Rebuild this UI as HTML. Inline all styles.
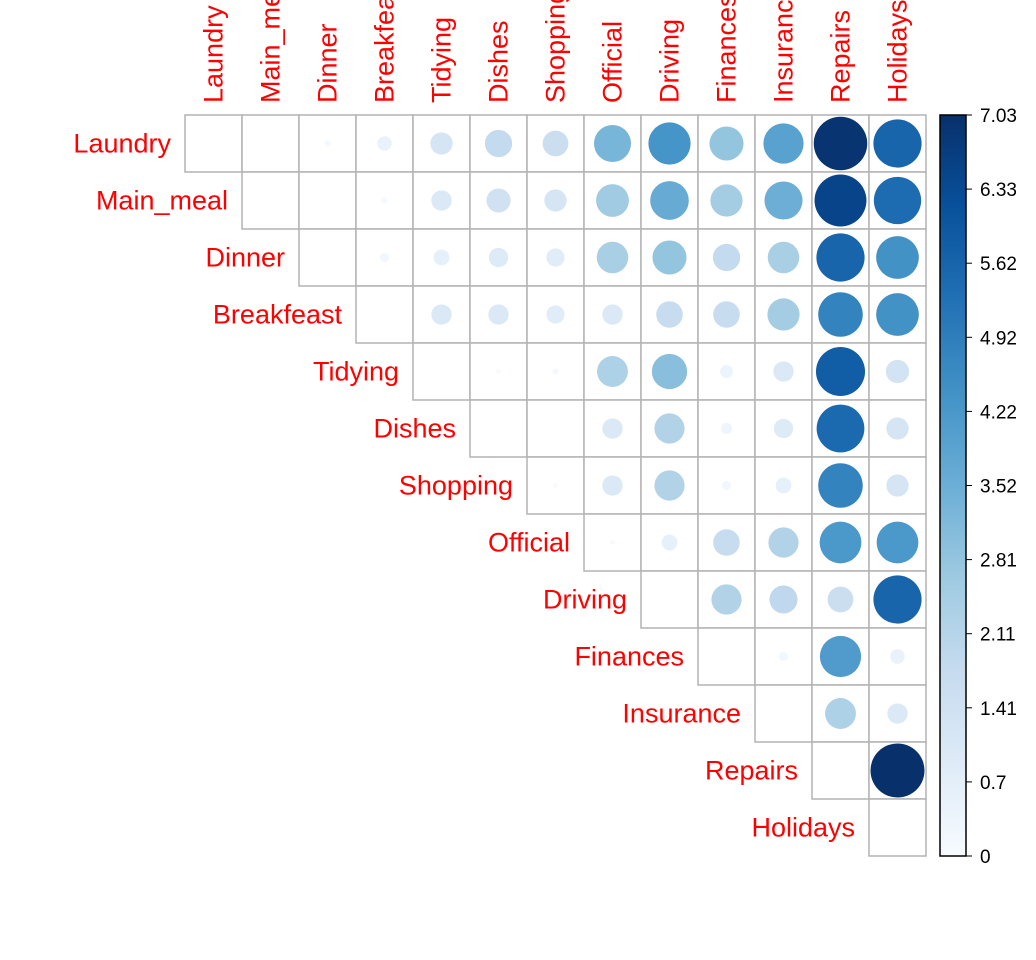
<!DOCTYPE html>
<html><head><meta charset="utf-8"><style>
body{margin:0;background:#fff;width:1036px;height:960px;overflow:hidden}
svg{display:block;font-family:"Liberation Sans",Arial,sans-serif}
</style></head><body>
<svg id="chart" width="1036" height="960" viewBox="0 0 1036 960"></svg>
<script>
const categories=["Laundry","Main_meal","Dinner","Breakfeast","Tidying","Dishes","Shopping","Official","Driving","Finances","Insurance","Repairs","Holidays"];
const rowLaundry=[0,0,0.1,0.5,1.2,1.8,1.6,3.3,4.3,2.8,3.9,6.9,5.6];
const rowMainMeal=[0,0,0.1,1.0,1.4,1.2,2.6,3.6,2.5,3.5,6.5,5.4];
const rowDinner=[0,0.2,0.6,0.9,0.8,2.4,2.8,1.8,2.4,5.6,4.4];
const rowBreakfeast=[0,1.0,1.0,0.8,1.0,1.7,1.7,2.5,4.8,4.4];
const rowTidying=[0,0.05,0.1,2.3,3.0,0.4,1.0,5.8,1.3];
const rowDishes=[0,0,1.0,2.2,0.3,0.9,5.5,1.2];
const rowShopping=[0.05,1.0,2.2,0.2,0.6,4.8,1.2];
const rowOfficial=[0.05,0.6,1.7,2.2,4.2,4.2];
const rowDriving=[0,2.2,1.9,1.6,5.6];
const rowFinances=[0,0.2,4.1,0.5];
const rowInsurance=[0,2.3,1.0];
const rowRepairs=[0,7.03];
const rowHolidays=[0];
const rows=[rowLaundry,rowMainMeal,rowDinner,rowBreakfeast,rowTidying,rowDishes,rowShopping,rowOfficial,rowDriving,rowFinances,rowInsurance,rowRepairs,rowHolidays];
const legendTicks=["0","0.7","1.41","2.11","2.81","3.52","4.22","4.92","5.62","6.33","7.03"];
const vmax=7.03;
const NS="http://www.w3.org/2000/svg";
const svg=document.getElementById('chart');
const x0=185,y0=115,cs=57;
const xPos=j=>x0+j*cs, yPos=i=>y0+i*cs;
const blues=["#F7FBFF","#DEEBF7","#C6DBEF","#9ECAE1","#6BAED6","#4292C6","#2171B5","#08519C","#08306B"];
function hex(h){return [1,3,5].map(k=>parseInt(h.substr(k,2),16));}
function color(v){let t=Math.max(0,Math.min(1,v/vmax))*(blues.length-1);let k=Math.min(Math.floor(t),blues.length-2);let f=t-k;let a=hex(blues[k]),b=hex(blues[k+1]);return "rgb("+a.map((c,i)=>Math.round(c+(b[i]-c)*f)).join(",")+")";}
function mk(tag,attrs){const e=document.createElementNS(NS,tag);for(const k in attrs)e.setAttribute(k,attrs[k]);svg.appendChild(e);return e;}
rows.forEach((vals,i)=>{
  vals.forEach((v,k)=>{
    const j=i+k;
    const r=mk('rect',{x:xPos(j),y:yPos(i),width:cs,height:cs,fill:'#fff',stroke:'#b3b3b3','stroke-width':1.5});
    
    
    const rad=27*Math.sqrt(v/vmax);
    if(rad>0.3){
      const c=mk('circle',{cx:xPos(j)+cs/2,cy:yPos(i)+cs/2,r:rad,fill:color(v)});
      
      
    }
  });
});
categories.forEach((c,i)=>{
  const t=mk('text',{x:xPos(i)-14,y:yPos(i)+cs/2+9,'text-anchor':'end','font-size':27,fill:'#ff0000'});
  t.textContent=c;
  
  
  const cx=xPos(i)+cs/2+9, cy=103;
  const u=mk('text',{x:cx,y:cy,transform:'rotate(-90 '+cx+' '+cy+')','font-size':27,fill:'#ff0000'});
  u.textContent=c;
  
  
});
const lx=940,lw=26,ly=115,lh=741;
const defs=mk('defs',{});
const g=document.createElementNS(NS,'linearGradient');g.setAttribute('id','lg');g.setAttribute('x1','0');g.setAttribute('y1','1');g.setAttribute('x2','0');g.setAttribute('y2','0');
defs.appendChild(g);
blues.forEach((b,k)=>{const s=document.createElementNS(NS,'stop');s.setAttribute('offset',k/(blues.length-1));s.setAttribute('stop-color',b);g.appendChild(s);});
const lr=mk('rect',{x:lx,y:ly,width:lw,height:lh,fill:'url(#lg)',stroke:'#000','stroke-width':1.5});


legendTicks.forEach((t,k)=>{
  const y=ly+lh-k*lh/(legendTicks.length-1);
  mk('line',{x1:lx+lw,x2:lx+lw+6,y1:y,y2:y,stroke:'#000','stroke-width':1});
  const e=mk('text',{x:lx+lw+14,y:y+7,'font-size':19,fill:'#000'});
  e.textContent=t;
  
  
});
</script>
</body></html>
